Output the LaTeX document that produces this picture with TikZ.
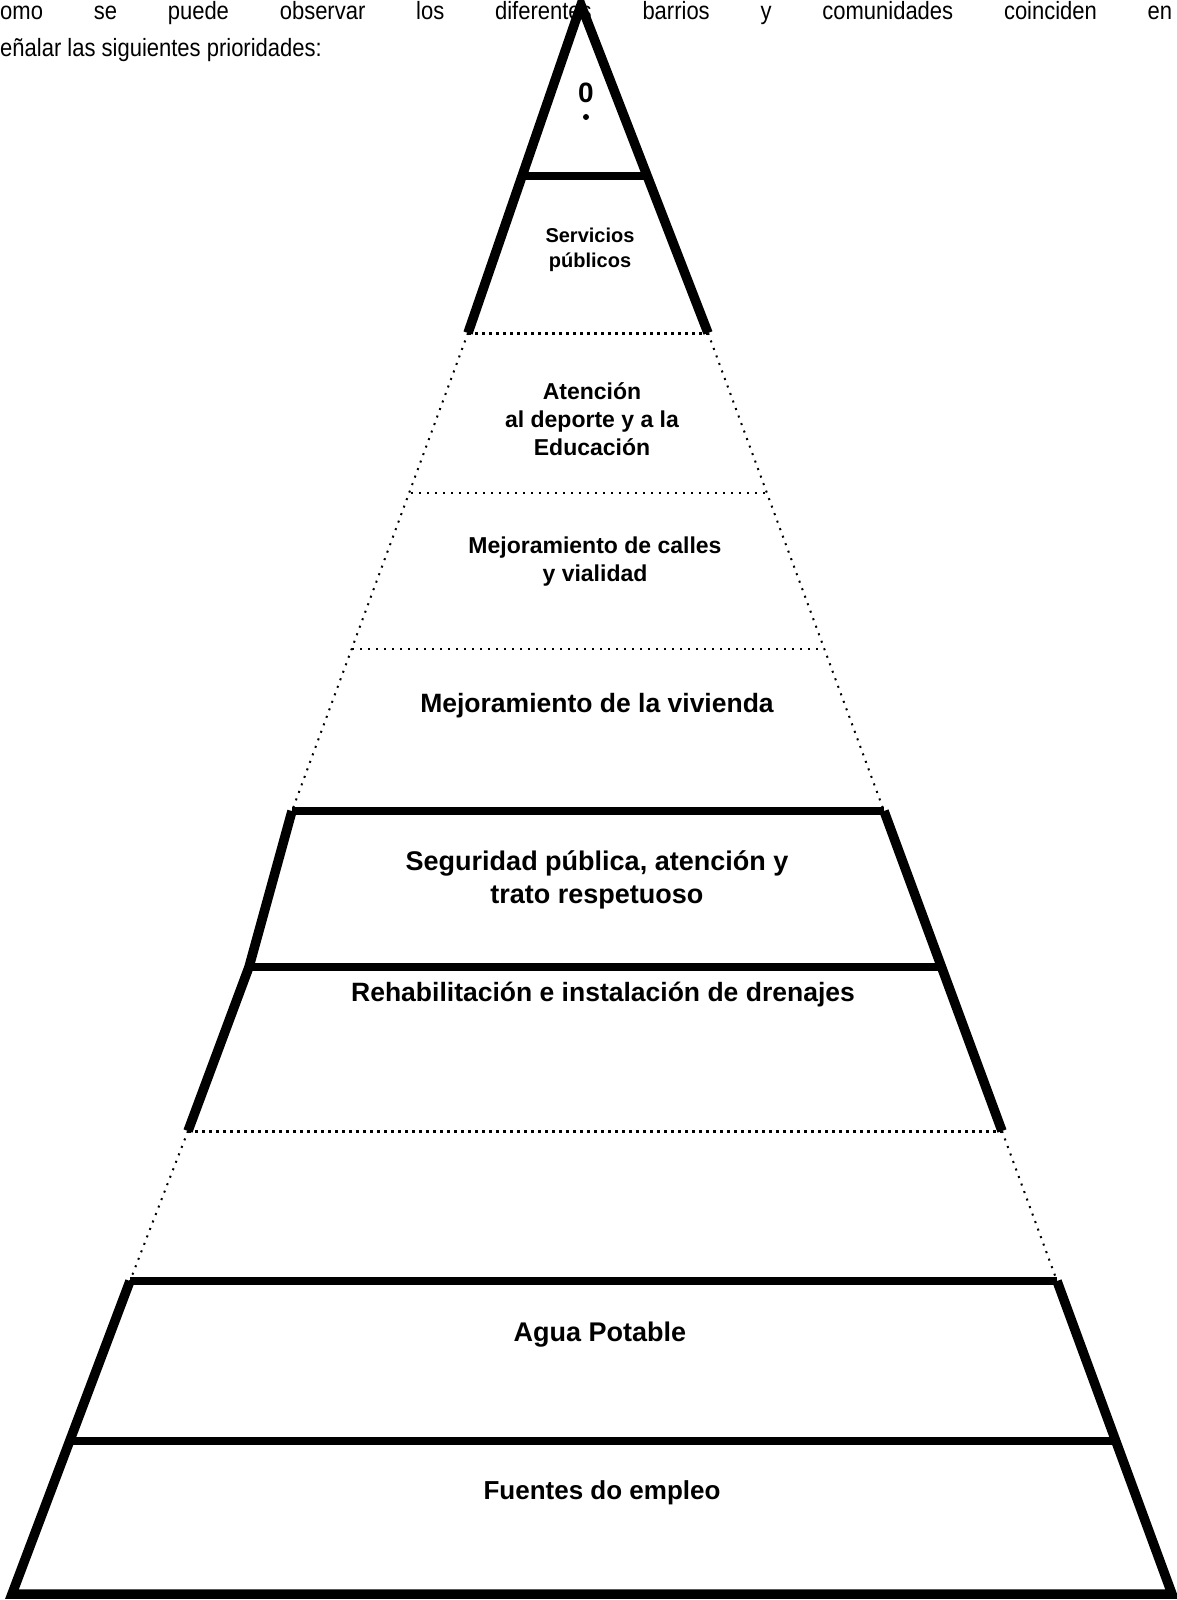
\documentclass[tikz,border=0pt]{standalone}
\usepackage{fontspec}
\setmainfont{Liberation Sans}
\begin{document}
\begin{tikzpicture}[x=1pt,y=-1pt,
  heavy/.style={line width=9.5pt, line join=miter, miter limit=20},
  hbar/.style={line width=8pt},
  speck/.style={line width=3pt, dash pattern=on 3pt off 4pt},
  faint/.style={line width=2pt, dash pattern=on 2pt off 6pt},
  lbl/.style={inner sep=0pt, align=center},
  fs/.style 2 args={font=\fontsize{#1}{#2}\selectfont\bfseries}]
\useasboundingbox (0,0) rectangle (1176,1600);
% side coordinates per level
\coordinate (A) at (581,5);
\coordinate (L1) at (522,176);  \coordinate (R1) at (647,176);
\coordinate (L2) at (468,333);  \coordinate (R2) at (708,333);
\coordinate (L3) at (411,493);  \coordinate (R3) at (767,493);
\coordinate (L4) at (352,649);  \coordinate (R4) at (825,649);
\coordinate (L5) at (292,811);  \coordinate (R5) at (884,811);
\coordinate (L6) at (249,967);  \coordinate (R6) at (945,967);
\coordinate (L7) at (188,1131); \coordinate (R7) at (1002,1131);
\coordinate (L8) at (130,1281); \coordinate (R8) at (1057,1281);
\coordinate (L9) at (72,1441);  \coordinate (R9) at (1112,1441);
\coordinate (L10) at (12,1594); \coordinate (R10) at (1172,1594);
% sides
\draw[heavy] (L2) -- (A) -- (R2);
\draw[faint] (L2) -- (L5); \draw[faint] (R2) -- (R5);
\draw[heavy] (L5) -- (L6) -- (L7); \draw[heavy] (R5) -- (R7);
\draw[faint] (L7) -- (L8); \draw[faint] (R7) -- (R8);
\draw[heavy] (L8) -- (L10) -- (R10) -- (R8);
% horizontal levels
\draw[hbar] (L1) -- (R1);
\draw[speck] (L2) -- (R2);
\draw[faint] (L3) -- (R3);
\draw[faint] (L4) -- (R4);
\draw[hbar] (L5) -- (R5);
\draw[hbar] (L6) -- (R6);
\draw[speck] (L7) -- (R7);
\draw[hbar] (L8) -- (R8);
\draw[hbar] (L9) -- (R9);
% heading text
\node[anchor=base west, inner sep=0pt, font=\fontsize{25}{28}\selectfont] (t1) at (0,20)
  {\scalebox{0.88}[1]{\makebox[1332pt][s]{omo se puede observar los diferentes barrios y comunidades coinciden en}}};
\node[anchor=base west, inner sep=0pt, font=\fontsize{25}{28}\selectfont] (t2) at (0,57)
  {\scalebox{0.88}[1]{eñalar las siguientes prioridades:}};
% labels
\node[lbl, fs={28}{32}] (o) at (586,93) {0};
\node[circle, fill, inner sep=0pt, minimum size=6pt] (dot) at (586,117) {};
\node[lbl, fs={20}{24.5}] (s1) at (590,250) {Servicios\\públicos};
\node[lbl, fs={23}{28}] (s2) at (592,419) {Atención\\al deporte y a la\\Educación};
\node[lbl, fs={23}{28}] (s3) at (595,562) {Mejoramiento de calles\\y vialidad};
\node[lbl, fs={26.5}{30}] (s4) at (597,706) {Mejoramiento de la vivienda};
\node[lbl, fs={27}{33}] (s5) at (597,880) {Seguridad pública, atención y\\trato respetuoso};
\node[lbl, fs={26.5}{32}] (s6) at (603,995) {Rehabilitación e instalación de drenajes};
\node[lbl, fs={27}{32}] (s7) at (600,1335) {Agua Potable};
\node[lbl, fs={26}{32}] (s8) at (602,1493) {Fuentes do empleo};
\end{tikzpicture}
\end{document}
